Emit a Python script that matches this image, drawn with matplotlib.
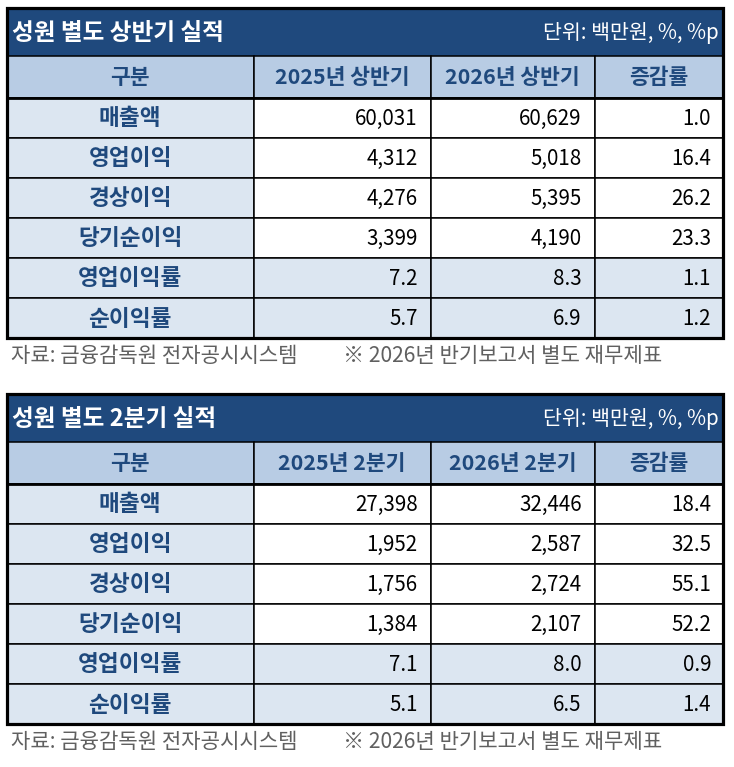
import matplotlib
matplotlib.use("Agg")
import matplotlib.pyplot as plt
from matplotlib.patches import Rectangle

plt.rcParams['font.family'] = ['Noto Sans CJK KR', 'DejaVu Sans']

# ---- data ----
row_labels = ['매출액', '영업이익', '경상이익', '당기순이익', '영업이익률', '순이익률']
is_ratio = [False, False, False, False, True, True]

h1_title = '성원 별도 상반기 실적'
h1_cols = ['구분', '2025년 상반기', '2026년 상반기', '증감률']
h1_2025 = [60031, 4312, 4276, 3399, 7.2, 5.7]
h1_2026 = [60629, 5018, 5395, 4190, 8.3, 6.9]
h1_chg = [1.0, 16.4, 26.2, 23.3, 1.1, 1.2]

q2_title = '성원 별도 2분기 실적'
q2_cols = ['구분', '2025년 2분기', '2026년 2분기', '증감률']
q2_2025 = [27398, 1952, 1756, 1384, 7.1, 5.1]
q2_2026 = [32446, 2587, 2724, 2107, 8.0, 6.5]
q2_chg = [18.4, 32.5, 55.1, 52.2, 0.9, 1.4]

unit_text = '단위: 백만원, %, %p'
note_src = '자료: 금융감독원 전자공시시스템'
note_ref = '※ 2026년 반기보고서 별도 재무제표'

# ---- style ----
NAVY = '#1f497d'
HEAD_BG = '#b8cce4'
LABEL_BG = '#dce6f1'
NOTE_C = '#606060'

col_x = [7, 253.5, 430.5, 594.5, 723]
title_h = 48
head_h = 41.5
row_h = 40.1


def fmt(v, ratio):
    return '{:.1f}'.format(v) if ratio else '{:,}'.format(int(v))


def draw_table(ax, top, title, cols, a, b, c):
    left, right = col_x[0], col_x[-1]
    # title band
    ax.add_patch(Rectangle((left, top), right - left, title_h, fc=NAVY, ec='none'))
    ax.text(left + 5, top + title_h / 2 + 1, title, color='white', fontsize=17,
            fontweight='bold', ha='left', va='center')
    ax.text(right - 4, top + title_h / 2 + 1, unit_text, color='white', fontsize=14.8,
            ha='right', va='center')

    # header row
    hy = top + title_h
    for i, name in enumerate(cols):
        ax.add_patch(Rectangle((col_x[i], hy), col_x[i + 1] - col_x[i], head_h,
                               fc=HEAD_BG, ec='black', lw=1.1))
        ax.text((col_x[i] + col_x[i + 1]) / 2, hy + head_h / 2 + 1, name, color=NAVY,
                fontsize=15.5, fontweight='bold', ha='center', va='center')

    # body rows
    y0 = hy + head_h
    for r, lab in enumerate(row_labels):
        y = y0 + r * row_h
        body_bg = LABEL_BG if is_ratio[r] else 'white'
        for i in range(4):
            fc = LABEL_BG if i == 0 else body_bg
            ax.add_patch(Rectangle((col_x[i], y), col_x[i + 1] - col_x[i], row_h,
                                   fc=fc, ec='black', lw=1.1))
        cy = y + row_h / 2 + 1
        ax.text((col_x[0] + col_x[1]) / 2, cy, lab, color=NAVY, fontsize=16.3,
                fontweight='bold', ha='center', va='center')
        for i, vals in enumerate([a, b]):
            ax.text(col_x[i + 2] - 13, cy, fmt(vals[r], is_ratio[r]), color='black',
                    fontsize=14.8, ha='right', va='center')
        ax.text(col_x[4] - 12, cy, fmt(c[r], True), color='black', fontsize=14.8,
                ha='right', va='center')

    bottom = y0 + len(row_labels) * row_h
    # thick line under header + outer border
    ax.plot([left, right], [y0, y0], color='black', lw=2.0, solid_capstyle='butt')
    ax.add_patch(Rectangle((left, top), right - left, bottom - top, fc='none',
                           ec='black', lw=2.3))

    # notes
    ny = bottom + 18
    ax.text(11, ny, note_src, color=NOTE_C, fontsize=15.2, ha='left', va='center')
    ax.text(343, ny, note_ref, color=NOTE_C, fontsize=15.2, ha='left', va='center')


fig = plt.figure(figsize=(7.34, 7.67), dpi=100)
ax = fig.add_axes([0, 0, 1, 1])
ax.set_xlim(0, 734)
ax.set_ylim(767, 0)
ax.axis('off')

draw_table(ax, 8, h1_title, h1_cols, h1_2025, h1_2026, h1_chg)
draw_table(ax, 394, q2_title, q2_cols, q2_2025, q2_2026, q2_chg)

fig.savefig('out.png', dpi=100, facecolor='white')
